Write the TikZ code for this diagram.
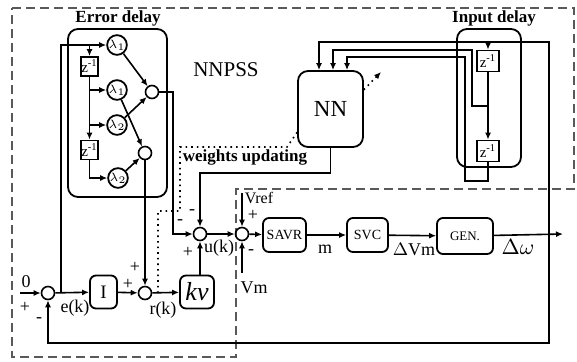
\documentclass[tikz,border=0pt]{standalone}
\usepackage{fontspec}
\setmainfont{Liberation Serif}
\usetikzlibrary{arrows.meta,calc}
\tikzset{
  blk/.style={draw,line width=0.9pt,rounded corners=3pt,inner sep=0pt},
  dly/.style={draw,line width=0.9pt,inner sep=0pt,minimum width=7.5pt,minimum height=9.5pt,font=\fontsize{7.5}{7.5}\selectfont},
  gn/.style={draw,circle,line width=0.9pt,inner sep=0pt,minimum size=7.5pt,font=\fontsize{6.5}{6.5}\selectfont},
  sm/.style={draw,circle,line width=0.8pt,inner sep=0pt,minimum size=6.5pt},
  con/.style={line width=0.8pt,-{Latex[length=3.5pt,width=3pt]}},
  lb/.style={inner sep=0pt,font=\fontsize{9}{9}\selectfont},
  ttl/.style={inner sep=0pt,font=\fontsize{8.5}{8.5}\selectfont\bfseries}
}
\begin{document}
\begin{tikzpicture}[x=0.5pt,y=-0.5pt]
\useasboundingbox (0,0) rectangle (577,361);
\draw[black!65,line width=0.8pt,dash pattern=on 4.5pt off 2.5pt] (12,8) -- (574,8) -- (574,189) -- (236,189) -- (236,357) -- (12,357) -- cycle;
\draw[line width=0.9pt,rounded corners=5pt] (68,29) rectangle (167,197);
\draw[line width=0.9pt,rounded corners=5pt] (457,29) rectangle (521,167);
\node[ttl] (errt) at (118,18) {Error delay}; \node[ttl] (inpt) at (494,18) {Input delay};
\node[lb,font=\fontsize{10.5}{10.5}\selectfont] (nnpss) at (226,70) {NNPSS};
\node[ttl] (wupd) at (245,157) {weights updating};

\node[dly] (zA) at (89.5,66.5) {z\textsuperscript{-1}}; \node[dly] (zB) at (89.5,150) {z\textsuperscript{-1}};
\node[gn] (lamA) at (117,45) {$\lambda_1$}; \node[gn] (lamB) at (117,90) {$\lambda_1$};
\node[gn] (lamC) at (117,125) {$\lambda_2$}; \node[gn] (lamD) at (118,178) {$\lambda_2$};
\node[sm] (s1) at (152,92) {}; \node[sm] (s2) at (145,153) {};
\node[dly,minimum width=11pt,minimum height=10.5pt] (zC) at (488,61) {z\textsuperscript{-1}};
\node[dly,minimum width=11pt,minimum height=10.5pt] (zD) at (488,151) {z\textsuperscript{-1}};
\node[blk,rounded corners=5pt,minimum width=32.5pt,minimum height=38pt,font=\fontsize{11.5}{11.5}\selectfont] (nn) at (330.5,109) {NN};

\node[sm] (esum) at (48,293) {};
\node[blk,minimum width=13.5pt,minimum height=16.5pt,font=\fontsize{9.5}{9.5}\selectfont] (I) at (103.5,292) {I};
\node[sm] (rsum) at (145,293) {};
\node[blk,minimum width=17pt,minimum height=16.5pt,font=\fontsize{13}{13}\selectfont\itshape] (kv) at (197,292) {kv};
\node[sm] (usum) at (200,234) {}; \node[sm] (vsum) at (242,234) {};
\node[blk,minimum width=21.5pt,minimum height=17pt,font=\fontsize{7}{7}\selectfont] (savr) at (284.5,235) {SAVR};
\node[blk,minimum width=20.5pt,minimum height=17pt,font=\fontsize{7}{7}\selectfont] (svc) at (367.5,235) {SVC};
\node[blk,minimum width=28pt,minimum height=18pt,font=\fontsize{6.5}{6.5}\selectfont] (gen) at (465,236) {GEN.};

\coordinate (tapw) at (549,234); \coordinate (wout) at (563,234); \coordinate (fb) at (549,343);
\coordinate (in1) at (319,42); \coordinate (in2) at (333,50); \coordinate (in3) at (347,57); \coordinate (j1) at (488,106);
\coordinate (in0) at (20,293); \coordinate (ek) at (61,293); \coordinate (rk) at (158,293);
\coordinate (vref) at (242,193); \coordinate (vm) at (242,273); \coordinate (nnadj) at (381,72);

\draw[con] (tapw) |- (in1) -- (in1 |- nn.north);
\draw[con] (zC.north |- in1) -- (zC); \draw[con] (zC) -- (zD);
\draw[con] (j1) -- ++(-16,0) |- (in2) -- (in2 |- nn.north);
\draw[con] (zD) -- ++(0,30) -- ++(-23,0) |- (in3) -- (in3 |- nn.north);
\draw[con] (tapw) -- (fb) -| (esum); \draw[con] (gen) -- (wout);

\draw[con] (ek) |- (lamA); \draw[con] (zA |- lamA) -- (zA); \draw[con] (zA) -- (zB);
\draw[con] (zA |- lamB) -- (lamB); \draw[con] (zA |- lamC) -- (lamC); \draw[con] (zB) |- (lamD);
\draw[con] (lamA) -- (s1); \draw[con] (lamC) -- (s1); \draw[con] (lamB) -- (s2); \draw[con] (lamD) -- (s2);
\draw[con] (s1) -- ++(21,0) |- (usum); \draw[con] (s2) -- (rsum);

\draw[con] (in0) -- (esum); \draw[con] (esum) -- (I); \draw[con] (I) -- (rsum); \draw[con] (rsum) -- (kv);
\draw[con] (kv.north -| usum) -- (usum); \draw[con] (nn) -- ++(0,64) -| (usum);
\draw[con] (usum) -- (vsum); \draw[con] (vref) -- (vsum); \draw[con] (vm) -- (vsum);
\draw[con] (vsum) -- (savr); \draw[con] (savr) -- (svc); \draw[con] (svc) -- (gen);

\draw[dotted,line width=0.8pt] (rk) -- ++(0,-82) -- ++(22,0) -- ++(0,-64) -- ++(107,0) -- (nn.215);
\draw[dotted,line width=0.8pt,-{Latex[length=3.5pt,width=3pt]}] (nn.30) -- (nnadj);

\node[lb] (l0) at (26,282) {0}; \node[lb] (lp1) at (25,307) {+}; \node[lb] (lm1) at (39,320) {-};
\node[lb] (lek) at (75,308) {e(k)}; \node[lb] (lp2) at (128,284) {+}; \node[lb] (lp3) at (135,267) {+};
\node[lb] (lrk) at (163,310) {r(k)}; \node[lb] (lp4) at (188,252) {+}; \node[lb] (luk) at (219,248) {u(k)};
\node[lb] (lm2) at (180,222) {-}; \node[lb] (lm3) at (192,212) {-};
\node[lb,font=\fontsize{8}{8}\selectfont] (lvref) at (259,198) {Vref}; \node[lb] (lp5) at (253,215) {+}; \node[lb] (lm4) at (251,252) {-};
\node[lb] (lvm) at (254,288) {Vm}; \node[lb] (lm) at (325,249) {m};
\node[lb] (ldvm) at (414,249) {$\Delta$Vm}; \node[lb,font=\fontsize{10.5}{10.5}\selectfont] (ldw) at (518,247) {$\Delta\omega$};
\end{tikzpicture}
\end{document}
